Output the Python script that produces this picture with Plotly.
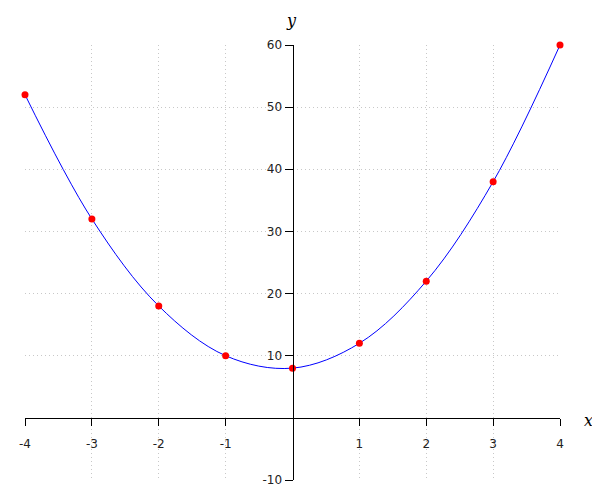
import plotly.graph_objects as go

x_vals = [-4, -3, -2, -1, 0, 1, 2, 3, 4]
y_vals = [52, 32, 18, 10, 8, 12, 22, 38, 60]
x_ticks = [-4, -3, -2, -1, 1, 2, 3, 4]
y_ticks = [-10, 10, 20, 30, 40, 50, 60]

fig = go.Figure()
fig.add_trace(go.Scatter(x=x_vals, y=y_vals, mode="lines", line=dict(color="blue", width=1, shape="spline", smoothing=1.0),
                         cliponaxis=False, hoverinfo="skip"))
fig.add_trace(go.Scatter(x=x_vals, y=y_vals, mode="markers", marker=dict(color="red", size=7),
                         cliponaxis=False))

font = dict(family="DejaVu Sans", size=12, color="#222")
grid = dict(showgrid=True, gridcolor="#c8c8c8", griddash="1px,3px", gridwidth=1)
fig.update_layout(
    width=592, height=492,
    margin=dict(l=17, r=40, t=37, b=20),
    paper_bgcolor="white", plot_bgcolor="white",
    showlegend=False,
    xaxis=dict(range=[-4, 4], tickvals=x_ticks, ticktext=[str(v) for v in x_ticks], **grid,
               zeroline=False, showline=True, linecolor="black", linewidth=1,
               ticks="outside", ticklen=7, tickcolor="black", tickfont=font, ticklabelstandoff=8,
               anchor="free", position=10/70, automargin=False),
    yaxis=dict(range=[-10, 60], tickvals=y_ticks, ticktext=[str(v) for v in y_ticks], **grid,
               zeroline=False, showline=True, linecolor="black", linewidth=1,
               ticks="outside", ticklen=8, tickcolor="black", tickfont=font, ticklabelstandoff=0,
               anchor="free", position=0.5, automargin=False),
    annotations=[
        dict(text="y", xref="paper", yref="paper", x=0.5, y=1, yshift=13, xshift=-1,
             showarrow=False, font=dict(family="DejaVu Serif", size=16, color="black", style="italic"),
             xanchor="center", yanchor="bottom"),
        dict(text="x", xref="paper", yref="paper", x=1, y=10/70, xshift=28, yshift=-3,
             showarrow=False, font=dict(family="DejaVu Serif", size=16, color="black", style="italic"),
             xanchor="center", yanchor="middle"),
    ],
)
fig.write_html("out.html")
